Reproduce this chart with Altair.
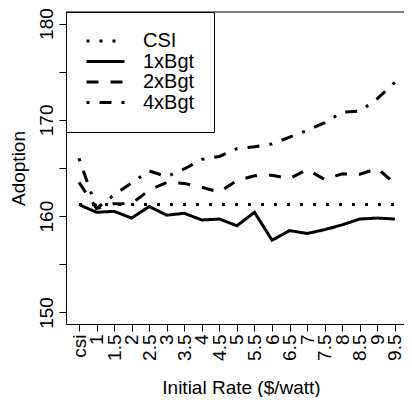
import altair as alt
import pandas as pd

rates = ["csi", "1", "1.5", "2", "2.5", "3", "3.5", "4", "4.5", "5", "5.5",
         "6", "6.5", "7", "7.5", "8", "8.5", "9", "9.5"]
series = ["CSI", "1xBgt", "2xBgt", "4xBgt"]

csi = [161.2] * len(rates)
bgt1 = [161.2, 160.4, 160.5, 159.8, 161.0, 160.1, 160.3, 159.6, 159.7, 159.0,
        160.4, 157.5, 158.5, 158.2, 158.6, 159.1, 159.7, 159.8, 159.7]
bgt2 = [163.5, 160.8, 161.3, 161.3, 162.7, 163.5, 163.4, 163.0, 162.5, 163.7,
        164.2, 164.25, 163.9, 164.85, 163.8, 164.4, 164.35, 164.95, 163.4]
bgt4 = [166.0, 160.8, 162.2, 163.45, 164.7, 164.1, 164.9, 165.9, 166.2, 167.0,
        167.2, 167.5, 168.2, 168.9, 169.7, 170.8, 170.9, 172.2, 173.9]

dashes = [[3, 10], [1, 0], [12, 12], [3, 10, 12, 10]]

rows = []
for name, vals in zip(series, [csi, bgt1, bgt2, bgt4]):
    for r, v in zip(rates, vals):
        rows.append({"rate": r, "value": v, "series": name})
df = pd.DataFrame(rows)

FONT = "Liberation Sans"
W, H = 338, 312

lines = alt.Chart(df).mark_line(strokeWidth=3, color="black", strokeCap="butt").encode(
    x=alt.X("rate:O", sort=rates,
            scale=alt.Scale(type="point", padding=0.63, align=0.588),
            axis=alt.Axis(title="Initial Rate ($/watt)", labelAngle=270, labelAlign="right",
                          labelBaseline="middle", labelPadding=3, tickSize=7,
                          labelOverlap=False, grid=False,
                          titleX=175, titleY=69, titleAlign="center",
                          titleBaseline="alphabetic")),
    y=alt.Y("value:Q",
            scale=alt.Scale(domain=[148.8, 181.2], nice=False, zero=False),
            axis=alt.Axis(values=list(range(150, 181, 5)),
                          labelExpr="datum.value % 10 == 0 ? datum.label : ''",
                          labelAngle=270, labelAlign="center", labelBaseline="alphabetic",
                          labelPadding=7, tickSize=7, grid=False, title="Adoption",
                          titleAngle=270, titleX=-42, titleY=156, titleAlign="center",
                          titleBaseline="alphabetic")),
    strokeDash=alt.StrokeDash("series:N",
                              scale=alt.Scale(domain=series, range=dashes),
                              legend=alt.Legend(orient="none", legendX=0, legendY=0, title=None,
                                                strokeColor="black", fillColor="white",
                                                padding=19, symbolType="stroke", symbolSize=1444,
                                                symbolStrokeWidth=3, symbolStrokeColor="black",
                                                labelFontSize=20, labelFont=FONT, labelColor="black",
                                                labelOffset=17, clipHeight=20, rowPadding=0.5,
                                                symbolOffset=0, cornerRadius=0)),
)

top = alt.Chart(pd.DataFrame({"a": [0]})).mark_rule(color="black", strokeWidth=1).encode(
    x=alt.value(0), x2=alt.value(W), y=alt.value(0))

chart = alt.layer(lines, top).properties(
    width=W, height=H,
    autosize=alt.AutoSizeParams(type="none"),
    padding={"left": 58, "top": 4, "right": 0, "bottom": 73},
).configure(font=FONT).configure_view(stroke=None).configure_axis(
    labelFont=FONT, titleFont=FONT, labelFontSize=19, titleFontSize=19,
    titleFontWeight="normal", labelColor="black", titleColor="black",
    domainColor="black", tickColor="black", domainWidth=1, tickWidth=1,
)

chart.save("out.html", embed_options={"renderer": "svg", "actions": False})
